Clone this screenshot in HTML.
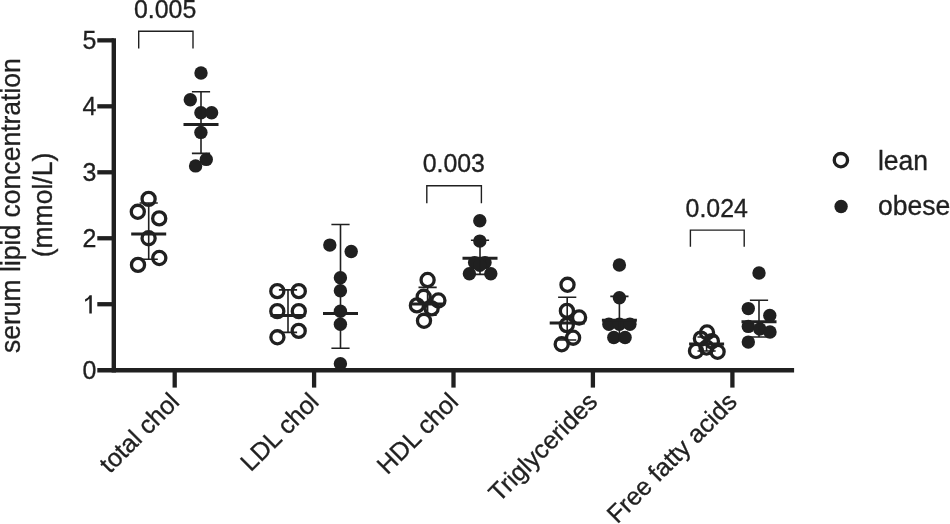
<!DOCTYPE html>
<html><head><meta charset="utf-8"><style>
html,body{margin:0;padding:0;background:#fff;}
svg{display:block;filter:grayscale(1);}
text{font-family:"Liberation Sans",sans-serif;fill:#231f20;stroke:#231f20;stroke-width:0.35px;}
.tk{font-size:26px;}
.pv{font-size:24.9px;}
.ttl{font-size:27.5px;}
.xl{font-size:25.1px;}
.lg{font-size:27.5px;}
</style></head><body>
<svg width="950" height="524" viewBox="0 0 950 524">
<rect width="950" height="524" fill="#fff"/>
<path d="M113.8 38.2V372.4" stroke="#231f20" stroke-width="4.4"/>
<path d="M97.3 370.2H794.1" stroke="#231f20" stroke-width="4.4"/>
<path d="M97.3 304.23H113.8" stroke="#231f20" stroke-width="4.3"/>
<path d="M97.3 238.26H113.8" stroke="#231f20" stroke-width="4.3"/>
<path d="M97.3 172.29H113.8" stroke="#231f20" stroke-width="4.3"/>
<path d="M97.3 106.32H113.8" stroke="#231f20" stroke-width="4.3"/>
<path d="M97.3 40.35H113.8" stroke="#231f20" stroke-width="4.3"/>
<path d="M174.7 370H174.7V387.6" stroke="#231f20" stroke-width="4.3"/>
<path d="M314.1 370H314.1V387.6" stroke="#231f20" stroke-width="4.3"/>
<path d="M453.5 370H453.5V387.6" stroke="#231f20" stroke-width="4.3"/>
<path d="M592.9 370H592.9V387.6" stroke="#231f20" stroke-width="4.3"/>
<path d="M732.4 370H732.4V387.6" stroke="#231f20" stroke-width="4.3"/>
<text transform="translate(96.4,378.80) scale(0.96,1)" text-anchor="end" class="tk">0</text>
<path d="M91.8 295.2V313.4H89.3V298.7C88 300 86.7 301 85.1 301.8V299.3C87 298.4 88.6 297 89.6 295.2Z" fill="#231f20"/>
<text transform="translate(96.4,246.86) scale(0.96,1)" text-anchor="end" class="tk">2</text>
<text transform="translate(96.4,180.89) scale(0.96,1)" text-anchor="end" class="tk">3</text>
<text transform="translate(96.4,114.92) scale(0.96,1)" text-anchor="end" class="tk">4</text>
<text transform="translate(96.4,48.95) scale(0.96,1)" text-anchor="end" class="tk">5</text>
<circle cx="148.6" cy="198.9" r="6.55" fill="none" stroke="#231f20" stroke-width="3.3"/>
<circle cx="137.8" cy="211.8" r="6.55" fill="none" stroke="#231f20" stroke-width="3.3"/>
<circle cx="159.2" cy="218.4" r="6.55" fill="none" stroke="#231f20" stroke-width="3.3"/>
<circle cx="148.6" cy="238.2" r="6.55" fill="none" stroke="#231f20" stroke-width="3.3"/>
<circle cx="159.3" cy="258.0" r="6.55" fill="none" stroke="#231f20" stroke-width="3.3"/>
<circle cx="138.0" cy="264.9" r="6.55" fill="none" stroke="#231f20" stroke-width="3.3"/>
<path d="M148.7 203.0V259.3M139.6 203.0H157.79999999999998M139.6 259.3H157.79999999999998" stroke="#231f20" stroke-width="1.6" fill="none"/>
<path d="M131.2 234.0H166.2" stroke="#231f20" stroke-width="3.0"/>
<circle cx="201.0" cy="73.0" r="6.7" fill="#231f20"/>
<circle cx="190.3" cy="99.8" r="6.7" fill="#231f20"/>
<circle cx="200.9" cy="112.8" r="6.7" fill="#231f20"/>
<circle cx="211.6" cy="112.8" r="6.7" fill="#231f20"/>
<circle cx="200.9" cy="132.4" r="6.7" fill="#231f20"/>
<circle cx="206.3" cy="159.4" r="6.7" fill="#231f20"/>
<circle cx="195.6" cy="165.9" r="6.7" fill="#231f20"/>
<path d="M201.0 91.8V153.4M191.9 91.8H210.1M191.9 153.4H210.1" stroke="#231f20" stroke-width="1.6" fill="none"/>
<path d="M183.5 124.4H218.5" stroke="#231f20" stroke-width="3.0"/>
<circle cx="277.3" cy="291.15" r="6.55" fill="none" stroke="#231f20" stroke-width="3.3"/>
<circle cx="298.8" cy="291.15" r="6.55" fill="none" stroke="#231f20" stroke-width="3.3"/>
<circle cx="277.3" cy="311.15" r="6.55" fill="none" stroke="#231f20" stroke-width="3.3"/>
<circle cx="298.8" cy="311.15" r="6.55" fill="none" stroke="#231f20" stroke-width="3.3"/>
<circle cx="298.7" cy="330.9" r="6.55" fill="none" stroke="#231f20" stroke-width="3.3"/>
<circle cx="277.4" cy="337.3" r="6.55" fill="none" stroke="#231f20" stroke-width="3.3"/>
<path d="M288.0 289.9V332.4M278.9 289.9H297.1M278.9 332.4H297.1" stroke="#231f20" stroke-width="1.6" fill="none"/>
<path d="M270.5 315.6H305.5" stroke="#231f20" stroke-width="3.0"/>
<circle cx="329.8" cy="245.1" r="6.7" fill="#231f20"/>
<circle cx="351.2" cy="251.5" r="6.7" fill="#231f20"/>
<circle cx="340.4" cy="277.7" r="6.7" fill="#231f20"/>
<circle cx="340.4" cy="290.8" r="6.7" fill="#231f20"/>
<circle cx="340.4" cy="311.2" r="6.7" fill="#231f20"/>
<circle cx="340.4" cy="324.2" r="6.7" fill="#231f20"/>
<circle cx="340.4" cy="363.7" r="6.7" fill="#231f20"/>
<path d="M340.5 224.5V348.3M331.4 224.5H349.6M331.4 348.3H349.6" stroke="#231f20" stroke-width="1.6" fill="none"/>
<path d="M323.0 313.5H358.0" stroke="#231f20" stroke-width="3.0"/>
<circle cx="427.6" cy="280.0" r="6.55" fill="none" stroke="#231f20" stroke-width="3.3"/>
<circle cx="423.7" cy="296.8" r="6.55" fill="none" stroke="#231f20" stroke-width="3.3"/>
<circle cx="438.4" cy="300.5" r="6.55" fill="none" stroke="#231f20" stroke-width="3.3"/>
<circle cx="416.9" cy="305.4" r="6.55" fill="none" stroke="#231f20" stroke-width="3.3"/>
<circle cx="431.6" cy="308.4" r="6.55" fill="none" stroke="#231f20" stroke-width="3.3"/>
<circle cx="424.0" cy="320.8" r="6.55" fill="none" stroke="#231f20" stroke-width="3.3"/>
<path d="M427.6 287.4V315.2M418.5 287.4H436.70000000000005M418.5 315.2H436.70000000000005" stroke="#231f20" stroke-width="1.6" fill="none"/>
<path d="M410.1 303.9H445.1" stroke="#231f20" stroke-width="3.0"/>
<circle cx="479.8" cy="220.8" r="6.7" fill="#231f20"/>
<circle cx="479.8" cy="241.1" r="6.7" fill="#231f20"/>
<circle cx="474.6" cy="262.6" r="6.7" fill="#231f20"/>
<circle cx="485.0" cy="262.6" r="6.7" fill="#231f20"/>
<circle cx="479.8" cy="265.2" r="6.7" fill="#231f20"/>
<circle cx="469.4" cy="273.7" r="6.7" fill="#231f20"/>
<circle cx="490.8" cy="273.7" r="6.7" fill="#231f20"/>
<path d="M480.0 240.2V274.4M470.9 240.2H489.1M470.9 274.4H489.1" stroke="#231f20" stroke-width="1.6" fill="none"/>
<path d="M462.5 258.35H497.5" stroke="#231f20" stroke-width="3.0"/>
<circle cx="567.5" cy="284.8" r="6.55" fill="none" stroke="#231f20" stroke-width="3.3"/>
<circle cx="566.9" cy="310.9" r="6.55" fill="none" stroke="#231f20" stroke-width="3.3"/>
<circle cx="579.1" cy="317.5" r="6.55" fill="none" stroke="#231f20" stroke-width="3.3"/>
<circle cx="566.8" cy="325.1" r="6.55" fill="none" stroke="#231f20" stroke-width="3.3"/>
<circle cx="573.1" cy="337.7" r="6.55" fill="none" stroke="#231f20" stroke-width="3.3"/>
<circle cx="561.7" cy="344.3" r="6.55" fill="none" stroke="#231f20" stroke-width="3.3"/>
<path d="M567.2 297.3V340.0M558.1 297.3H576.3000000000001M558.1 340.0H576.3000000000001" stroke="#231f20" stroke-width="1.6" fill="none"/>
<path d="M549.7 323.1H584.7" stroke="#231f20" stroke-width="3.0"/>
<circle cx="619.4" cy="265.0" r="6.7" fill="#231f20"/>
<circle cx="619.4" cy="297.7" r="6.7" fill="#231f20"/>
<circle cx="608.9" cy="324.2" r="6.7" fill="#231f20"/>
<circle cx="619.4" cy="324.2" r="6.7" fill="#231f20"/>
<circle cx="629.9" cy="324.2" r="6.7" fill="#231f20"/>
<circle cx="613.8" cy="337.5" r="6.7" fill="#231f20"/>
<circle cx="625.1" cy="337.5" r="6.7" fill="#231f20"/>
<path d="M619.4 296.4V341.0M610.3 296.4H628.5M610.3 341.0H628.5" stroke="#231f20" stroke-width="1.6" fill="none"/>
<path d="M601.9 320.2H636.9" stroke="#231f20" stroke-width="3.0"/>
<circle cx="707.0" cy="332.5" r="6.55" fill="none" stroke="#231f20" stroke-width="3.3"/>
<circle cx="700.9" cy="338.6" r="6.55" fill="none" stroke="#231f20" stroke-width="3.3"/>
<circle cx="711.9" cy="341.3" r="6.55" fill="none" stroke="#231f20" stroke-width="3.3"/>
<circle cx="696.0" cy="351.0" r="6.55" fill="none" stroke="#231f20" stroke-width="3.3"/>
<circle cx="717.6" cy="351.8" r="6.55" fill="none" stroke="#231f20" stroke-width="3.3"/>
<circle cx="706.5" cy="347.5" r="6.55" fill="none" stroke="#231f20" stroke-width="3.3"/>
<path d="M706.6 337.0V351.0M697.5 337.0H715.7M697.5 351.0H715.7" stroke="#231f20" stroke-width="1.6" fill="none"/>
<path d="M689.1 344.0H724.1" stroke="#231f20" stroke-width="3.0"/>
<circle cx="759.0" cy="273.0" r="6.7" fill="#231f20"/>
<circle cx="748.3" cy="308.6" r="6.7" fill="#231f20"/>
<circle cx="769.8" cy="315.5" r="6.7" fill="#231f20"/>
<circle cx="748.3" cy="326.4" r="6.7" fill="#231f20"/>
<circle cx="759.8" cy="329.0" r="6.7" fill="#231f20"/>
<circle cx="770.0" cy="332.0" r="6.7" fill="#231f20"/>
<circle cx="748.3" cy="342.1" r="6.7" fill="#231f20"/>
<path d="M759.0 300.2V337.0M749.9 300.2H768.1M749.9 337.0H768.1" stroke="#231f20" stroke-width="1.6" fill="none"/>
<path d="M741.5 321.7H776.5" stroke="#231f20" stroke-width="3.0"/>
<path d="M138.7 48.6V31.2H193.0V48.6" stroke="#231f20" stroke-width="1.4" fill="none"/>
<path d="M426.8 203.3V185.7H481.4V203.3" stroke="#231f20" stroke-width="1.4" fill="none"/>
<path d="M690.4 246.7V230.1H744.2V246.7" stroke="#231f20" stroke-width="1.4" fill="none"/>
<text x="165.1" y="17.8" text-anchor="middle" class="pv">0.005</text>
<text x="453.8" y="172.25" text-anchor="middle" class="pv">0.003</text>
<text x="716.75" y="216.8" text-anchor="middle" class="pv">0.024</text>
<text transform="translate(19.75,205.6) rotate(-90) scale(0.965,1)" text-anchor="middle" class="ttl">serum lipid concentration</text>
<text transform="translate(52.1,205.0) rotate(-90) scale(0.965,1)" text-anchor="middle" class="ttl">(mmol/L)</text>
<text transform="translate(180.79999999999998,403.2) rotate(-45)" text-anchor="end" class="xl">total chol</text>
<text transform="translate(320.20000000000005,403.2) rotate(-45)" text-anchor="end" class="xl">LDL chol</text>
<text transform="translate(459.6,403.2) rotate(-45)" text-anchor="end" class="xl">HDL chol</text>
<text transform="translate(599.0,403.2) rotate(-45)" text-anchor="end" class="xl">Triglycerides</text>
<text transform="translate(738.5,403.2) rotate(-45)" text-anchor="end" class="xl">Free fatty acids</text>
<circle cx="840.9" cy="160.15" r="6.65" fill="none" stroke="#231f20" stroke-width="3.3"/>
<circle cx="841.1" cy="206.5" r="6.7" fill="#231f20"/>
<text transform="translate(877.9,169.7) scale(0.965,1)" class="lg">lean</text>
<text transform="translate(877.9,215.4) scale(0.965,1)" class="lg">obese</text>
</svg>
</body></html>
